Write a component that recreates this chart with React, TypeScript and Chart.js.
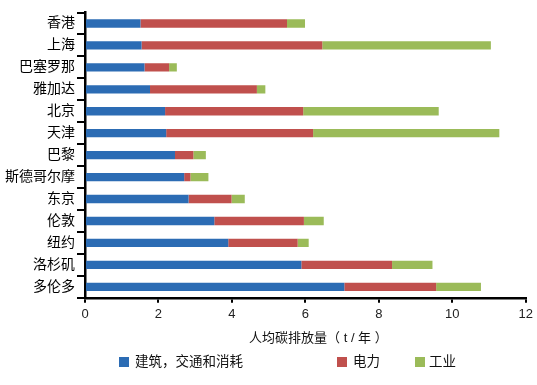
import React, { useEffect, useRef } from "react";
import { Chart, registerables } from "chart.js";

Chart.register(...registerables);

const cities = ["香港", "上海", "巴塞罗那", "雅加达", "北京", "天津", "巴黎", "斯德哥尔摩", "东京", "伦敦", "纽约", "洛杉矶", "多伦多"];
const buildingTransport = [1.51, 1.54, 1.62, 1.77, 2.18, 2.21, 2.45, 2.70, 2.82, 3.52, 3.90, 5.89, 7.06];
const electricity = [3.99, 4.92, 0.67, 2.91, 3.76, 4.00, 0.50, 0.17, 1.17, 2.44, 1.89, 2.47, 2.50];
const industry = [0.49, 4.59, 0.21, 0.23, 3.69, 5.07, 0.34, 0.49, 0.36, 0.54, 0.30, 1.10, 1.22];
const seriesNames = ["建筑，交通和消耗", "电力", "工业"];
const xTitle = "　　人均碳排放量（ t / 年 ）";

const COLORS = ["#2C6CB4", "#C0504D", "#9BBB59"];
const FONT = "'Liberation Sans', 'Noto Sans CJK SC', sans-serif";

export default function App() {
  const ref = useRef<HTMLCanvasElement | null>(null);

  useEffect(() => {
    document.body.style.margin = "0";
    const ctx = ref.current;
    if (!ctx) return;
    const values = [buildingTransport, electricity, industry];
    const chart = new Chart(ctx, {
      type: "bar",
      data: {
        labels: cities,
        datasets: seriesNames.map((name, i) => ({
          label: name,
          data: values[i],
          backgroundColor: COLORS[i],
          borderWidth: 0,
          barPercentage: 0.38,
          categoryPercentage: 1,
        })),
      },
      options: {
        indexAxis: "y",
        animation: false,
        responsive: false,
        maintainAspectRatio: false,
        layout: { padding: { top: 12.5, right: 9, bottom: 35, left: 0 } },
        plugins: {
          legend: { display: false },
          tooltip: { enabled: false },
        },
        scales: {
          x: {
            stacked: true,
            min: 0,
            max: 12,
            ticks: {
              stepSize: 2,
              color: "#222",
              padding: 4,
              font: { family: FONT, size: 13 },
            },
            grid: {
              drawOnChartArea: false,
              drawTicks: true,
              tickLength: 5,
              color: "#000",
              lineWidth: 2,
            },
            border: { display: true, color: "#000", width: 2.5 },
            title: {
              display: true,
              text: xTitle,
              color: "#111",
              padding: { top: 4, bottom: 4 },
              font: { family: FONT, size: 13 },
            },
          },
          y: {
            stacked: true,
            afterFit: (scale: any) => {
              scale.width = 85;
            },
            ticks: {
              color: "#000",
              padding: 2,
              font: { family: FONT, size: 14 },
            },
            grid: {
              offset: true,
              drawOnChartArea: false,
              drawTicks: true,
              tickLength: 8,
              color: "#000",
              lineWidth: 2,
            },
            border: { display: true, color: "#000", width: 2.5 },
          },
        },
      },
    });
    return () => chart.destroy();
  }, []);

  const legendItems = [
    { box: 119, text: 135 },
    { box: 337, text: 353 },
    { box: 415, text: 429 },
  ];

  return (
    <div style={{ position: "relative", width: 537, height: 385, background: "#fff" }}>
      <canvas ref={ref} width={537} height={385} style={{ display: "block", width: 537, height: 385 }} />
      {legendItems.map((it, i) => (
        <React.Fragment key={i}>
          <div
            style={{
              position: "absolute",
              left: it.box,
              top: 357,
              width: 10,
              height: 10,
              background: COLORS[i],
            }}
          />
          <div
            style={{
              position: "absolute",
              left: it.text,
              top: 354,
              lineHeight: "16px",
              fontSize: 13.5,
              fontFamily: FONT,
              color: "#111",
              whiteSpace: "nowrap",
            }}
          >
            {seriesNames[i]}
          </div>
        </React.Fragment>
      ))}
    </div>
  );
}
